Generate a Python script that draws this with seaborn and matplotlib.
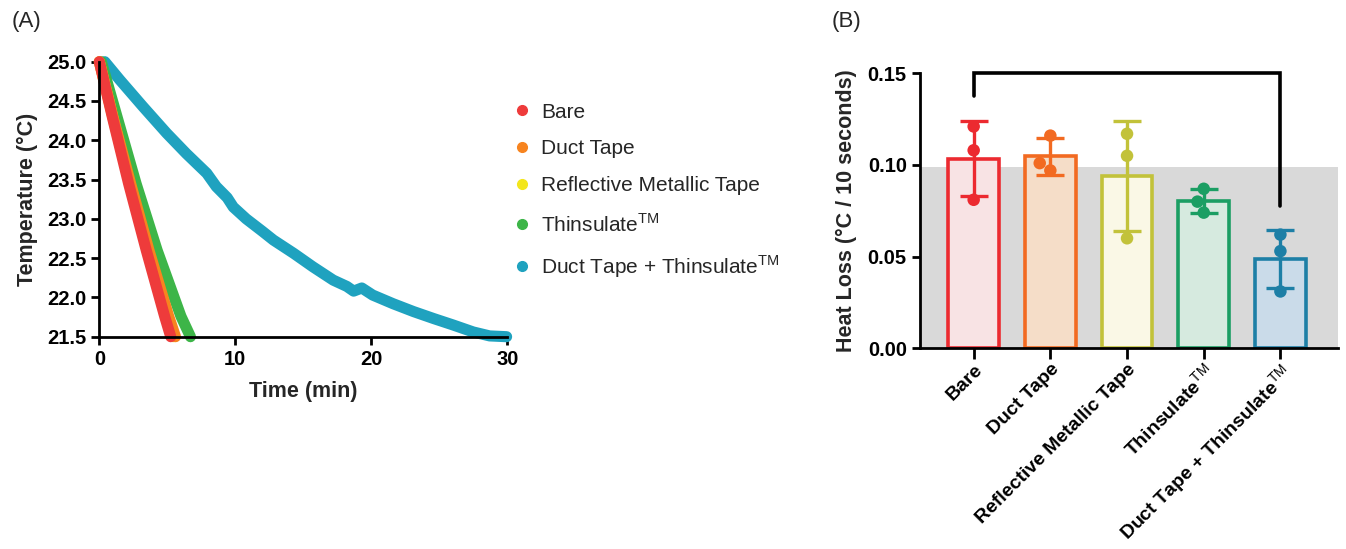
import numpy as np
import pandas as pd
import matplotlib
matplotlib.use("Agg")
import matplotlib.pyplot as plt
from matplotlib.lines import Line2D
from matplotlib.ticker import FormatStrFormatter
import seaborn as sns

# ---------------- data ----------------
series_names = ["Bare", "Duct Tape", "Reflective Metallic Tape",
                "Thinsulate$^{\\mathrm{TM}}$", "Duct Tape + Thinsulate$^{\\mathrm{TM}}$"]

bare_t = [0.0, 0.95, 2.15, 3.45, 4.8, 5.25]
bare_T = [25.0, 24.30, 23.45, 22.60, 21.76, 21.5]
duct_t = [0.0, 1.0, 2.3, 3.65, 5.1, 5.6]
duct_T = [25.0, 24.30, 23.45, 22.60, 21.76, 21.5]
refl_t = [0.0, 0.98, 2.22, 3.55, 4.95, 5.45]
refl_T = [25.0, 24.30, 23.45, 22.60, 21.76, 21.5]
thin_t = [0.15, 1.3, 2.7, 4.25, 6.0, 6.7]
thin_T = [25.0, 24.30, 23.45, 22.60, 21.76, 21.5]
dtth_t = [0.4, 1.5, 3.2, 4.95, 6.4, 7.9, 8.6, 9.4, 9.85, 10.8, 12.0, 12.8, 14.3,
          15.7, 17.2, 18.2, 18.7, 19.3, 20.1, 21.6, 23.1, 24.6, 26.0, 27.5,
          28.7, 29.95]
dtth_T = [25.0, 24.77, 24.43, 24.09, 23.83, 23.58, 23.41, 23.27, 23.15, 23.0,
          22.84, 22.73, 22.56, 22.39, 22.22, 22.14, 22.08, 22.12, 22.03, 21.92,
          21.82, 21.73, 21.65, 21.56, 21.51, 21.50]

line_colors = ["#ee3b3b", "#f7841f", "#f3e61c", "#3db548", "#1fa2bf"]

categories = ["Bare", "Duct Tape", "Reflective Metallic Tape",
              "Thinsulate$^{\\mathrm{TM}}$", "Duct Tape + Thinsulate$^{\\mathrm{TM}}$"]
bare_pts = [0.121, 0.108, 0.081]
duct_pts = [0.116, 0.097, 0.101]
refl_pts = [0.117, 0.105, 0.060]
thin_pts = [0.087, 0.080, 0.074]
dtth_pts = [0.062, 0.053, 0.031]
edge_colors = ["#ec2a30", "#f26a21", "#c2c23a", "#1b9e63", "#1d7fa6"]
fill_colors = ["#fbdfe1", "#fcdcc0", "#fdfbe3", "#d3eddf", "#c5dbee"]
band_top = 0.099
bracket_y = [0.1375, 0.150, 0.150, 0.0775]

# ---------------- style ----------------
sns.set_theme(style="ticks")
plt.rcParams["font.family"] = ["Liberation Sans", "DejaVu Sans"]
plt.rcParams["mathtext.fontset"] = "custom"
plt.rcParams["mathtext.rm"] = "Liberation Sans"
plt.rcParams["mathtext.bf"] = "Liberation Sans:bold"

fig = plt.figure(figsize=(13.46, 5.49), dpi=100)
axA = fig.add_axes([0.0738, 0.3867, 0.3031, 0.5009])
axB = fig.add_axes([0.6835, 0.3656, 0.3105, 0.5009])

# ---------------- panel A ----------------
ts = [bare_t, duct_t, refl_t, thin_t, dtth_t]
Ts = [bare_T, duct_T, refl_T, thin_T, dtth_T]
frames = []
for name, t, T in zip(series_names, ts, Ts):
    frames.append(pd.DataFrame({"t": t, "T": T, "series": name}))
dfA = pd.concat(frames, ignore_index=True)
palA = dict(zip(series_names, line_colors))
draw_order = series_names[::-1]
sns.lineplot(data=dfA, x="t", y="T", hue="series", hue_order=draw_order,
             palette=palA, sort=False, estimator=None, linewidth=8,
             legend=False, ax=axA)
for ln in axA.lines:
    ln.set_clip_on(False)
    ln.set_solid_capstyle("round")
    ln.set_solid_joinstyle("round")

axA.set_xlim(0, 30)
axA.set_ylim(21.5, 25.0)
axA.set_xticks([0, 10, 20, 30])
axA.set_yticks(np.arange(21.5, 25.01, 0.5))
axA.yaxis.set_major_formatter(FormatStrFormatter("%.1f"))
axA.set_xlabel("Time (min)", fontsize=15.5, fontweight="bold", labelpad=9)
axA.set_ylabel("Temperature (°C)", fontsize=15.5, fontweight="bold", labelpad=6)

handles = [Line2D([], [], marker="o", linestyle="none", color=c, markersize=7)
           for c in line_colors]
fig.legend(handles, series_names, loc="upper left",
           bbox_to_anchor=(493 / 1346, 1 - 84 / 549), frameon=False,
           fontsize=15, handletextpad=0.4, labelspacing=0.85, handlelength=1.0)

# ---------------- panel B ----------------
pts = [bare_pts, duct_pts, refl_pts, thin_pts, dtth_pts]
dfB = pd.DataFrame({"cat": np.repeat(categories, [len(p) for p in pts]),
                    "val": np.concatenate(pts)})
sns.barplot(data=dfB, x="cat", y="val", hue="cat", order=categories,
            hue_order=categories, palette=dict(zip(categories, fill_colors)),
            errorbar=None, width=0.66, legend=False, ax=axB, zorder=2)
bars = [p for cont in axB.containers for p in cont]
for patch, ec in zip(bars, edge_colors):
    patch.set_edgecolor(ec)
    patch.set_linewidth(2.6)
    patch.set_zorder(2)
axB.axhspan(0, band_top, color="#d9d9d9", zorder=0, lw=0)

means = dfB.groupby("cat", sort=False)["val"].mean().reindex(categories).values
sds = dfB.groupby("cat", sort=False)["val"].std().reindex(categories).values
for i, (m, s, c) in enumerate(zip(means, sds, edge_colors)):
    axB.errorbar(i, m, yerr=s, color=c, capsize=10, capthick=2.4,
                 elinewidth=2.4, zorder=4)

sns.swarmplot(data=dfB, x="cat", y="val", hue="cat", order=categories,
              hue_order=categories, palette=dict(zip(categories, edge_colors)),
              size=9, legend=False, ax=axB, zorder=5)

axB.plot([0, 0, 4, 4], bracket_y, color="black", lw=2.6, clip_on=False,
         solid_joinstyle="miter", zorder=6)

axB.set_xlim(-0.7, 4.75)
axB.set_ylim(0, 0.15)
axB.set_yticks([0.00, 0.05, 0.10, 0.15])
axB.yaxis.set_major_formatter(FormatStrFormatter("%.2f"))
axB.set_xlabel("")
axB.set_ylabel("Heat Loss (°C / 10 seconds)", fontsize=15.5,
               fontweight="bold", labelpad=8)
axB.set_xticks(range(len(categories)))
axB.set_xticklabels(categories, rotation=45, ha="right",
                    rotation_mode="anchor")

for ax in (axA, axB):
    sns.despine(ax=ax)
    for sp in ("left", "bottom"):
        ax.spines[sp].set_linewidth(2.0)
        ax.spines[sp].set_color("black")
    ax.tick_params(axis="both", direction="out", length=6, width=2.0,
                   color="black", labelsize=14.5, labelcolor="black")
    for lab in ax.get_xticklabels() + ax.get_yticklabels():
        lab.set_fontweight("bold")
axB.tick_params(axis="x", length=8, pad=1, labelsize=14)

fig.text(12 / 1346, 1 - 22 / 549, "(A)", fontsize=16, va="center", ha="left")
fig.text(832 / 1346, 1 - 22 / 549, "(B)", fontsize=16, va="center", ha="left")

fig.savefig("out.png", dpi=100)
